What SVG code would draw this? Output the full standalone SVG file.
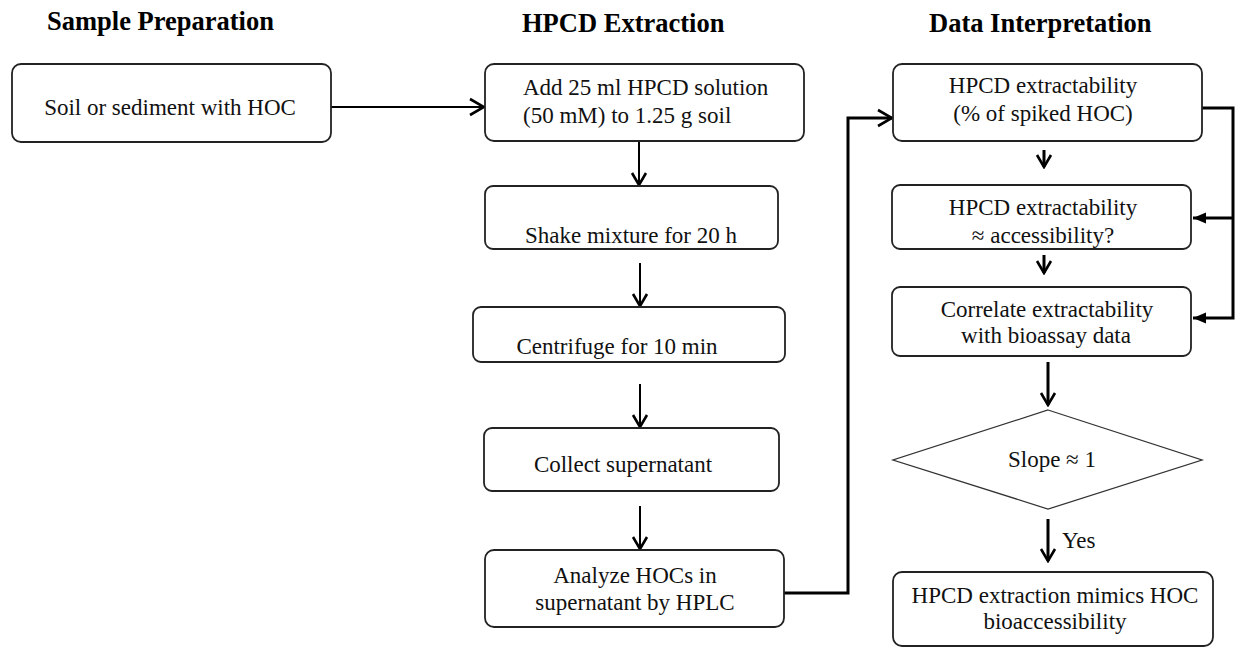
<svg xmlns="http://www.w3.org/2000/svg" width="1243" height="648" viewBox="0 0 1243 648">
  <style>
    .title { font-family: "Liberation Serif", "Times New Roman", serif; font-size: 26.5px; font-weight: bold; fill: #000; }
    .t { font-family: "Liberation Serif", "Times New Roman", serif; font-size: 23px; fill: #111; }
    .c { text-anchor: middle; }
    .box { fill: #fff; stroke: #222; stroke-width: 1.8; }
    .dia { fill: #fff; stroke: #333; stroke-width: 1.3; }
    .thin { fill: none; stroke: #000; stroke-width: 2; }
    .thick { fill: none; stroke: #000; stroke-width: 3; }
  </style>
  <defs>
    <marker id="vee" viewBox="-2 -10 16 20" refX="12" refY="0" markerWidth="16" markerHeight="20" markerUnits="userSpaceOnUse" orient="auto">
      <path d="M0,-7 L12,0 L0,7" fill="none" stroke="#000" stroke-width="2.6"/>
    </marker>
    <marker id="veeBig" viewBox="-2 -10 18 20" refX="14" refY="0" markerWidth="18" markerHeight="20" markerUnits="userSpaceOnUse" orient="auto">
      <path d="M0,-8 L14,0 L0,8" fill="none" stroke="#000" stroke-width="2.6"/>
    </marker>
    <marker id="tri" viewBox="0 -8 14 16" refX="13" refY="0" markerWidth="14" markerHeight="16" markerUnits="userSpaceOnUse" orient="auto">
      <path d="M0,-5.5 L13,0 L0,5.5 Z" fill="#000"/>
    </marker>
  </defs>

  <g id="titles">
    <text class="title" x="47" y="30">Sample Preparation</text>
    <text class="title" x="522" y="32">HPCD Extraction</text>
    <text class="title" x="929" y="32">Data Interpretation</text>
  </g>

  <g id="connectors">
    <path class="thin" d="M331,107 H484" stroke-width="2.5" marker-end="url(#veeBig)"/>
    <path class="thin" d="M639,141 V185" marker-end="url(#vee)"/>
    <path class="thin" d="M640,263 V306" marker-end="url(#vee)"/>
    <path class="thin" d="M640,384 V427" marker-end="url(#vee)"/>
    <path class="thin" d="M640,506 V549" marker-end="url(#vee)"/>
    <path class="thick" d="M784,593 H848 V118 H892" marker-end="url(#veeBig)"/>
    <path class="thick" d="M1044,150 V167" marker-end="url(#vee)"/>
    <path class="thick" d="M1044,255 V273" marker-end="url(#vee)"/>
    <path class="thick" d="M1202,108 H1233 V318 H1193" marker-end="url(#tri)"/>
    <path class="thick" d="M1233,218 H1193" marker-end="url(#tri)"/>
    <path class="thick" d="M1048,362 V405" marker-end="url(#vee)"/>
    <path class="thick" d="M1048,519 V561" marker-end="url(#vee)"/>
    <text class="t" x="1062" y="548">Yes</text>
  </g>

  <g id="soil">
    <rect class="box" x="12" y="64" width="319" height="78" rx="9"/>
    <text class="t c" x="170" y="115">Soil or sediment with HOC</text>
  </g>

  <g id="add">
    <rect class="box" x="485" y="64" width="319" height="77" rx="9"/>
    <text class="t" x="523" y="95">Add 25 ml HPCD solution</text>
    <text class="t" x="523" y="123">(50 mM) to 1.25 g soil</text>
  </g>

  <g id="shake">
    <rect class="box" x="485" y="186" width="293" height="63" rx="8"/>
    <text class="t c" x="631" y="243">Shake mixture for 20 h</text>
  </g>

  <g id="centrifuge">
    <rect class="box" x="473" y="307" width="312" height="55" rx="8"/>
    <text class="t c" x="617" y="354">Centrifuge for 10 min</text>
  </g>

  <g id="collect">
    <rect class="box" x="484" y="428" width="295" height="63" rx="8"/>
    <text class="t c" x="623" y="472">Collect supernatant</text>
  </g>

  <g id="analyze">
    <rect class="box" x="485" y="550" width="299" height="77" rx="9"/>
    <text class="t c" x="635" y="583">Analyze HOCs in</text>
    <text class="t c" x="635" y="610">supernatant by HPLC</text>
  </g>

  <g id="extractability">
    <rect class="box" x="893" y="64" width="309" height="77" rx="9"/>
    <text class="t c" x="1043" y="93">HPCD extractability</text>
    <text class="t c" x="1043" y="121">(% of spiked HOC)</text>
  </g>

  <g id="accessibility">
    <rect class="box" x="892" y="185" width="299" height="64" rx="8"/>
    <text class="t c" x="1043" y="215">HPCD extractability</text>
    <text class="t c" x="1043" y="243">≈ accessibility?</text>
  </g>

  <g id="correlate">
    <rect class="box" x="892" y="287" width="299" height="69" rx="8"/>
    <text class="t c" x="1047" y="317">Correlate extractability</text>
    <text class="t c" x="1046" y="343">with bioassay data</text>
  </g>

  <g id="slope">
    <polygon class="dia" points="1048,410 1202,460 1048,509 893,460"/>
    <text class="t c" x="1052" y="467">Slope ≈ 1</text>
  </g>

  <g id="mimics">
    <rect class="box" x="893" y="572" width="320" height="74" rx="9"/>
    <text class="t c" x="1055" y="603">HPCD extraction mimics HOC</text>
    <text class="t c" x="1055" y="629">bioaccessibility</text>
  </g>
</svg>
